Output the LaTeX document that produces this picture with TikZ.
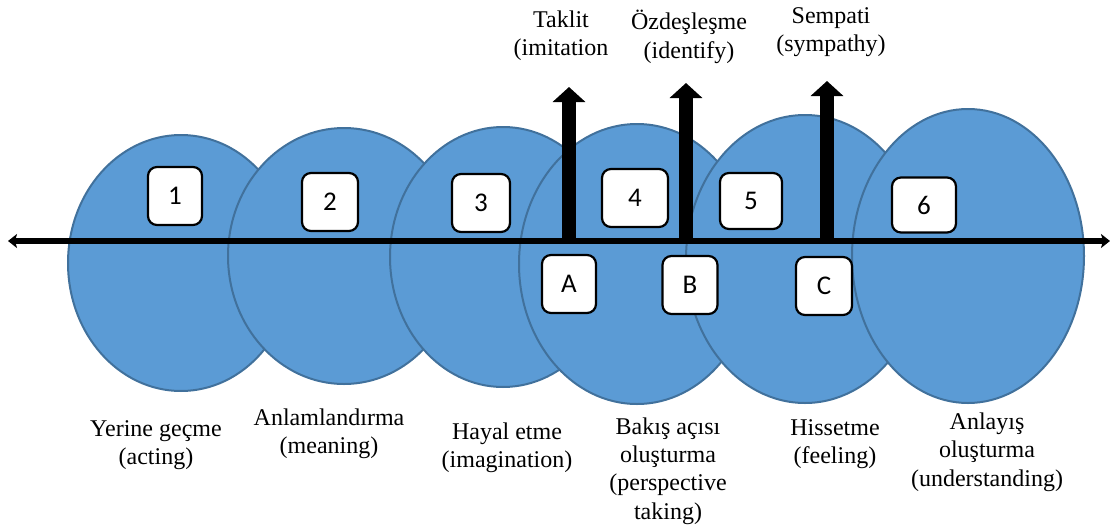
\documentclass[tikz,border=0pt]{standalone}
\usepackage{fontspec}
\setmainfont{Liberation Serif}
\newfontfamily\boxfont{Carlito}
\usetikzlibrary{arrows.meta,shapes.geometric}
\definecolor{ellfill}{HTML}{5B9BD5}
\definecolor{elldraw}{HTML}{41719C}
\begin{document}
\begin{tikzpicture}[x=0.5pt,y=-0.5pt,
  blob/.style={ellipse, draw=elldraw, fill=ellfill, line width=1pt, inner sep=0pt},
  numbox/.style={draw=black, fill=white, rounded corners=4.5pt, line width=1.1pt,
    minimum height=29pt, inner sep=0pt, font=\boxfont\fontsize{13.5}{16}\selectfont},
  lbl/.style={align=center, font=\fontsize{12}{14.2}\selectfont, inner sep=0pt},
  axisline/.style={line width=3pt,
    {Stealth[length=4.5pt,width=7pt,inset=1pt]}-{Stealth[length=4.5pt,width=7pt,inset=1pt]}},
  uparrow/.style={line width=7pt, -{Triangle[length=7.5pt,width=16pt]}}]
\useasboundingbox (0,0) rectangle (1115,525);
% ellipses
\node[blob, minimum width=113pt, minimum height=128pt] (e1) at (181,263) {};
\node[blob, minimum width=116pt, minimum height=128pt] (e2) at (344,256) {};
\node[blob, minimum width=113pt, minimum height=130pt] (e3) at (503,257) {};
\node[blob, minimum width=118pt, minimum height=140pt] (e4) at (637,264) {};
\node[blob, minimum width=119pt, minimum height=144pt] (e5) at (805,259) {};
\node[blob, minimum width=116pt, minimum height=147pt] (e6) at (968,256) {};
% axis
\coordinate (axl) at (8,241);
\coordinate (axr) at (1110,241);
\draw[axisline] (axl) -- (axr);
% vertical arrows
\coordinate (bA) at (569,241);
\coordinate (tA) at (569,87);
\coordinate (bB) at (686,238);
\coordinate (tB) at (686,83);
\coordinate (bC) at (827,241);
\coordinate (tC) at (827,81);
\draw[uparrow] (bA) -- (tA);
\draw[uparrow] (bB) -- (tB);
\draw[uparrow] (bC) -- (tC);
% number boxes
\node[numbox, minimum width=27pt] (n1) at (175,196) {1};
\node[numbox, minimum width=28pt] (n2) at (330,202) {2};
\node[numbox, minimum width=29pt] (n3) at (481,203) {3};
\node[numbox, minimum width=33pt] (n4) at (635,198) {4};
\node[numbox, minimum width=31pt, minimum height=28pt] (n5) at (751,201) {5};
\node[numbox, minimum width=32pt, minimum height=27.5pt] (n6) at (924,205) {6};
\node[numbox, minimum width=27pt] (bxA) at (569,284) {A};
\node[numbox, minimum width=27.5pt] (bxB) at (690,285) {B};
\node[numbox, minimum width=28pt] (bxC) at (824,286) {C};
% top labels
\node[lbl] (lt1) at (561,36) {Taklit\\(imitation};
\node[lbl] (lt2) at (689,37) {Özdeşleşme\\(identify)};
\node[lbl] (lt3) at (831,32) {Sempati\\(sympathy)};
% bottom labels
\node[lbl] (lb1) at (156,445) {Yerine geçme\\(acting)};
\node[lbl] (lb2) at (329,434) {Anlamlandırma\\(meaning)};
\node[lbl] (lb3) at (507,448) {Hayal etme\\(imagination)};
\node[lbl] (lb4) at (668,471) {Bakış açısı\\oluşturma\\(perspective\\taking)};
\node[lbl] (lb5) at (835,444) {Hissetme\\(feeling)};
\node[lbl] (lb6) at (987,452) {Anlayış\\oluşturma\\(understanding)};
\end{tikzpicture}
\end{document}
